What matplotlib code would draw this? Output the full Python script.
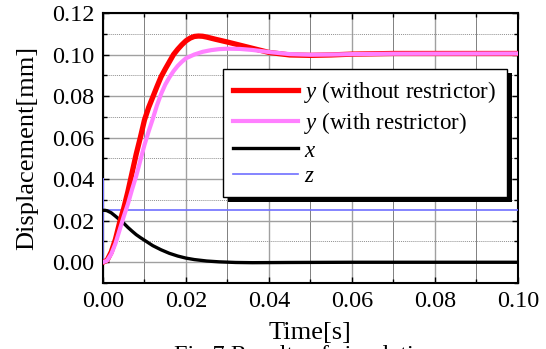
import numpy as np
import matplotlib
matplotlib.use("Agg")
import matplotlib.pyplot as plt
import matplotlib.patheffects as pe
from matplotlib.ticker import MultipleLocator, FormatStrFormatter

plt.rcParams['font.family'] = ['Liberation Serif', 'DejaVu Serif']
plt.rcParams['mathtext.fontset'] = 'custom'
plt.rcParams['mathtext.rm'] = 'Liberation Serif'
plt.rcParams['mathtext.it'] = 'Liberation Serif:italic'

# response without restrictor
t_y1 = [0, 0.001, 0.002, 0.003, 0.004, 0.005, 0.006, 0.007, 0.008, 0.009,
        0.010, 0.011, 0.012, 0.013, 0.014, 0.015, 0.016, 0.017, 0.018, 0.019,
        0.020, 0.021, 0.022, 0.023, 0.024, 0.025, 0.027, 0.030, 0.033, 0.036,
        0.040, 0.045, 0.050, 0.055, 0.060, 0.070, 0.080, 0.100]
y1 = [0, 0.001, 0.005, 0.011, 0.019, 0.026, 0.034, 0.043, 0.052, 0.060,
      0.0685, 0.0745, 0.0795, 0.0845, 0.0893, 0.0930, 0.0965, 0.1000, 0.1025, 0.1047,
      0.1066, 0.1079, 0.1087, 0.1089, 0.1088, 0.1084, 0.1074, 0.1060, 0.1045, 0.1030,
      0.1010, 0.0998, 0.0996, 0.0998, 0.1002, 0.1005, 0.1005, 0.1005]

# response with restrictor
t_y2 = [0, 0.001, 0.002, 0.003, 0.004, 0.005, 0.006, 0.007, 0.008, 0.009,
        0.010, 0.011, 0.012, 0.013, 0.014, 0.015, 0.016, 0.017, 0.018, 0.019,
        0.020, 0.022, 0.024, 0.026, 0.028, 0.030, 0.033, 0.036, 0.040, 0.045,
        0.050, 0.055, 0.060, 0.070, 0.100]
y2 = [0, 0.0008, 0.004, 0.009, 0.0155, 0.022, 0.028, 0.035, 0.0415, 0.049,
      0.0565, 0.063, 0.069, 0.0755, 0.081, 0.0855, 0.089, 0.092, 0.0945, 0.0965,
      0.0982, 0.1000, 0.1013, 0.1021, 0.1026, 0.1028, 0.1027, 0.1022, 0.1012, 0.1002,
      0.0999, 0.1000, 0.1002, 0.1004, 0.1005]

# x
t_x = [0, 0.0005, 0.001, 0.002, 0.003, 0.004, 0.005, 0.006, 0.007, 0.008,
       0.009, 0.010, 0.012, 0.014, 0.016, 0.018, 0.020, 0.022, 0.025, 0.028,
       0.032, 0.036, 0.045, 0.060, 0.100]
xs = [0.025, 0.025, 0.0248, 0.0238, 0.0222, 0.0205, 0.0188, 0.0168, 0.0150, 0.0133,
      0.0119, 0.0106, 0.0080, 0.0060, 0.0043, 0.0030, 0.0020, 0.0013, 0.0006, 0.0002,
      -0.0001, -0.0002, -0.0001, 0.0, 0.0]

# z
t_z = [0, 0, 0, 0.100]
zs = [0, 0.04, 0.025, 0.025]

fig = plt.figure(figsize=(5.46, 3.49), dpi=100)
ax = fig.add_axes([0.1886, 0.189, 0.7601, 0.7738])

lz, = ax.plot(t_z, zs, color='#6f6fff', lw=1.2, zorder=3)
lx, = ax.plot(t_x, xs, color='black', lw=2.4, zorder=4)
l1, = ax.plot(t_y1, y1, color='#ff0000', lw=3.8, zorder=5)
l2, = ax.plot(t_y2, y2, color='#ff80ff', lw=3.0, zorder=6)

ax.set_xlim(0, 0.10)
ax.set_ylim(-0.01, 0.12)
ax.xaxis.set_major_locator(MultipleLocator(0.02))
ax.xaxis.set_minor_locator(MultipleLocator(0.01))
ax.yaxis.set_major_locator(MultipleLocator(0.02))
ax.yaxis.set_minor_locator(MultipleLocator(0.01))
ax.xaxis.set_major_formatter(FormatStrFormatter('%.2f'))
ax.yaxis.set_major_formatter(FormatStrFormatter('%.2f'))

ax.grid(which='major', axis='both', color='#a0a0a0', lw=1.0, ls='-')
ax.grid(which='minor', axis='x', color='#808080', lw=0.7, ls='-')
ax.grid(which='minor', axis='y', color='#909090', lw=0.7, ls=(0, (1, 1)))
ax.set_axisbelow(True)

ax.tick_params(which='both', direction='in', top=True, right=True,
               labelsize=17.5, pad=6, width=1.0)
ax.tick_params(which='major', length=4)
ax.tick_params(which='minor', length=3)
for s in ax.spines.values():
    s.set_linewidth(1.5)

ax.set_xlabel('Time[s]', fontsize=19, labelpad=7)
ax.set_ylabel('Displacement[mm]', fontsize=19, labelpad=10)

leg = ax.legend([l1, l2, lx, lz],
                ['$y$ (without restrictor)', '$y$ (with restrictor)', '$x$', '$z$'],
                loc='upper right', bbox_to_anchor=(0.9735, 0.7926),
                borderaxespad=0, fancybox=False, framealpha=1, edgecolor='black',
                fontsize=16.5, handlelength=2.8, handletextpad=0.3,
                labelspacing=0.2, borderpad=0.45)
leg.get_frame().set_linewidth(1.0)
leg.get_frame().set_path_effects([
    pe.SimplePatchShadow(offset=(3.5, -3), shadow_rgbFace='black', alpha=1),
    pe.Normal()])
leg.set_zorder(10)

fig.text(0.56, 1 - 345 / 349, 'Fig.7 Results of simulation', fontsize=17.5,
         ha='center', va='top')

fig.savefig('out.png', dpi=100)
